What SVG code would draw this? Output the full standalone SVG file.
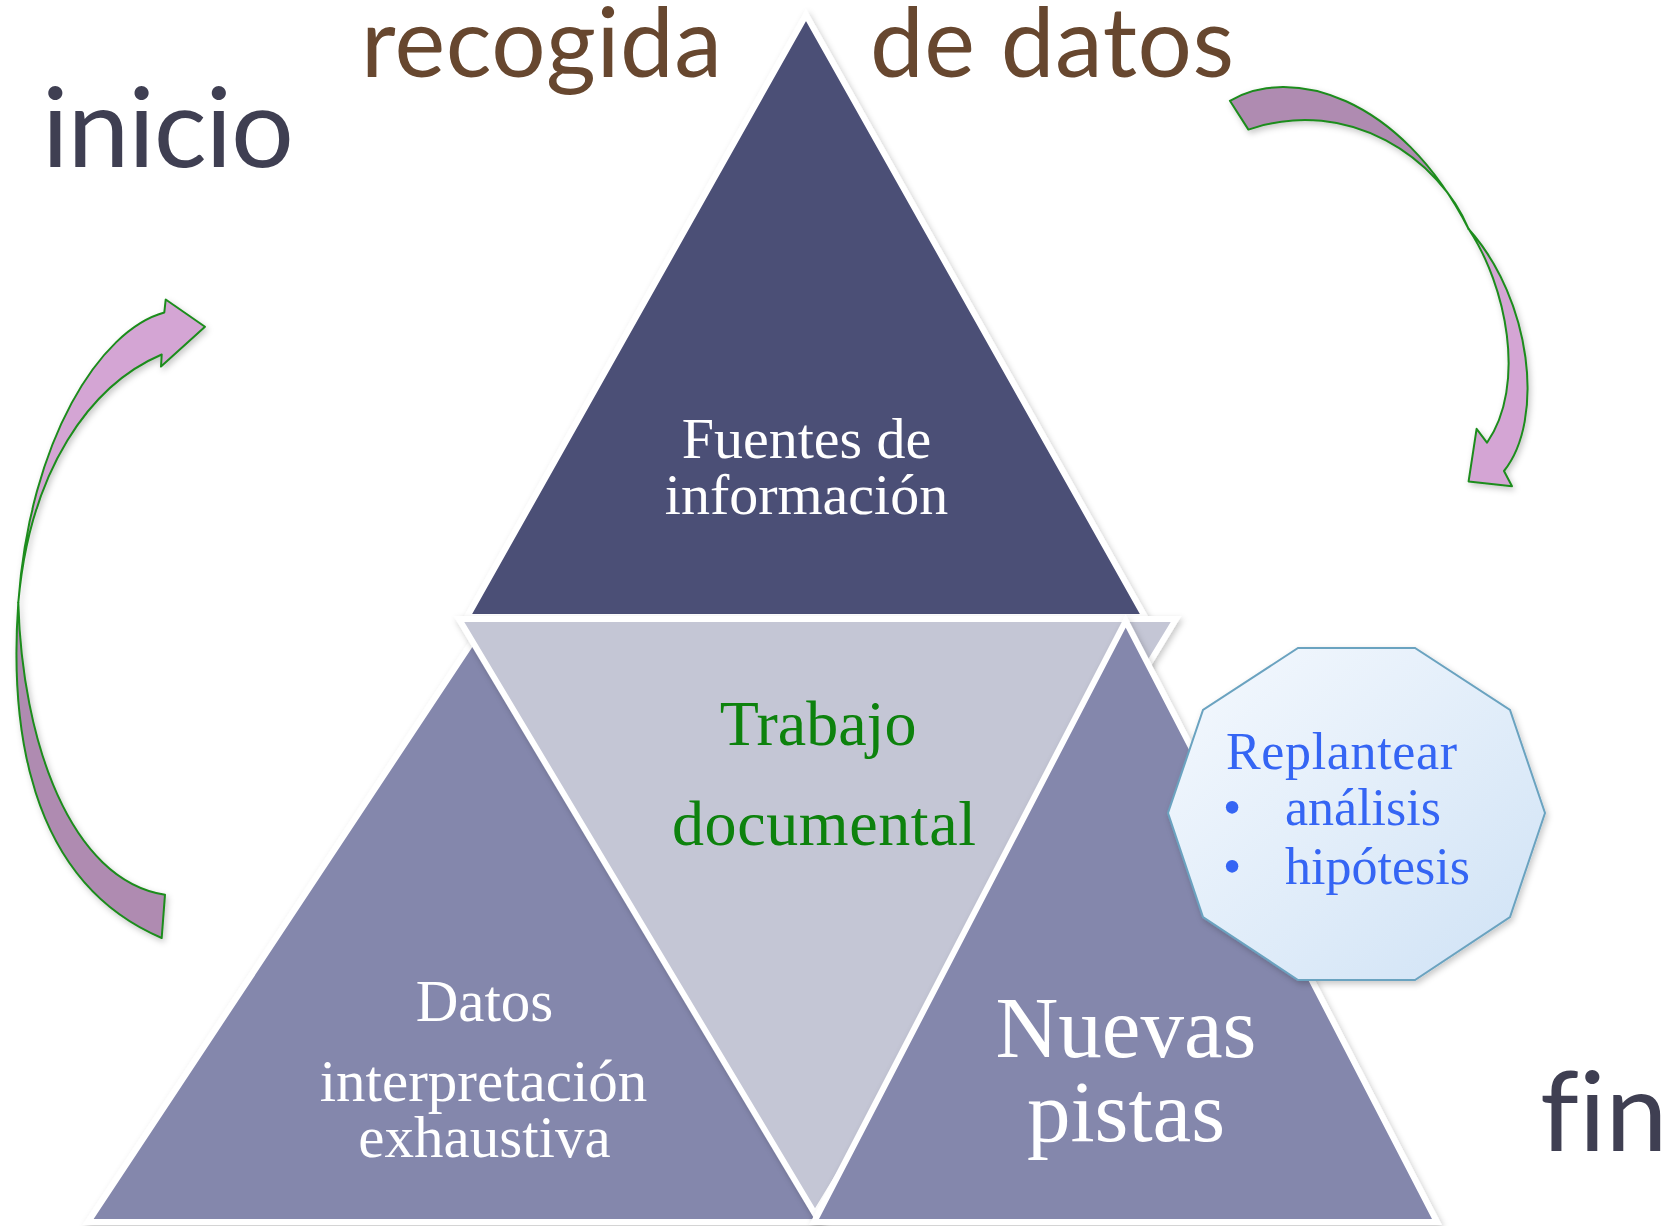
<svg xmlns="http://www.w3.org/2000/svg" width="1664" height="1226" viewBox="0 0 1664 1226">
<style>
.tri{stroke:#FFFFFF;stroke-width:6;stroke-linejoin:miter}
.dark{fill:#4C4F76}
.mid{fill:#8487AC}
.light{fill:#C4C6D5}
.serif{font-family:"Liberation Serif","Times New Roman",serif}
.sans{font-family:Lato,"Open Sans","Noto Sans",sans-serif;font-variant-ligatures:none}
.wt{fill:#FFFFFF}
.grn{fill:#0A820A}
.blu{fill:#3465F4}
.arrowL{fill:#D4A5D4;stroke:#1C8C1C;stroke-width:2;stroke-linejoin:round}
.arrowD{fill:#AF8BB1;stroke:#1C8C1C;stroke-width:2;stroke-linejoin:round}
</style>
<defs>
<filter id="sh" x="-10%" y="-10%" width="120%" height="120%">
<feDropShadow dx="2" dy="3" stdDeviation="3" flood-color="#000000" flood-opacity="0.22"/>
</filter>
<linearGradient id="decg" x1="0" y1="0" x2="1" y2="1">
<stop offset="0" stop-color="#F5F9FE"/>
<stop offset="1" stop-color="#CFE2F5"/>
</linearGradient>
</defs>
<rect width="1664" height="1226" fill="#FFFFFF"/>

<g id="title">
<text class="sans" x="361" y="77" font-size="96" fill="#67472F" textLength="361">recogida</text>
<text class="sans" x="870" y="77" font-size="96" fill="#67472F" textLength="364">de datos</text>
</g>
<g id="label-inicio">
<text class="sans" x="42" y="167" font-size="111" fill="#3F3F52" textLength="252">inicio</text>
</g>
<g id="label-fin">
<text class="sans" x="1540" y="1151" font-size="111" fill="#3F3F52">fin</text>
</g>

<g id="node-fuentes" filter="url(#sh)">
<polygon class="tri dark" points="806,15 1145,617 467,617"/>
<text class="serif wt" x="806.5" y="458" font-size="58" text-anchor="middle">Fuentes de</text>
<text class="serif wt" x="806.5" y="514" font-size="58" text-anchor="middle">información</text>
</g>

<g id="node-datos" filter="url(#sh)">
<polygon class="tri mid" points="480,630 820,1222 88,1222"/>
<text class="serif wt" x="484.5" y="1021" font-size="59" text-anchor="middle">Datos</text>
<text class="serif wt" x="483.5" y="1101" font-size="59" text-anchor="middle">interpretación</text>
<text class="serif wt" x="484.5" y="1157" font-size="59" text-anchor="middle">exhaustiva</text>
</g>

<g id="node-trabajo" filter="url(#sh)">
<polygon class="tri light" points="459,619 1176,619 815,1214"/>
<text class="serif grn" x="818" y="745" font-size="64" text-anchor="middle">Trabajo</text>
<text class="serif grn" x="824" y="845" font-size="64" text-anchor="middle" textLength="304">documental</text>
</g>

<g id="node-nuevas" filter="url(#sh)">
<polygon class="tri mid" points="1125.7,621 1437,1222 814,1222"/>
<text class="serif wt" x="1126" y="1057" font-size="87" text-anchor="middle">Nuevas</text>
<text class="serif wt" x="1126" y="1141" font-size="87" text-anchor="middle">pistas</text>
</g>

<g id="node-replantear" filter="url(#sh)">
<polygon points="1298,648 1415,648 1510,710 1545,813 1510,917 1415,980 1298,980 1203,917 1168,813 1203,710" fill="url(#decg)" stroke="#6BA3C0" stroke-width="2"/>
<text class="serif blu" x="1226" y="769" font-size="52" textLength="231">Replantear</text>
<text class="serif blu" x="1232" y="825" font-size="52" text-anchor="middle">•</text>
<text class="serif blu" x="1285" y="825" font-size="52">análisis</text>
<text class="serif blu" x="1232" y="884" font-size="52" text-anchor="middle">•</text>
<text class="serif blu" x="1285" y="884" font-size="52">hipótesis</text>
</g>

<g id="connectors" filter="url(#sh)">
<g id="arrow-left">
<path class="arrowD" d="M18.3,602.5 C10,720 25,880 161.7,938 L165,894.7 C70,880 22,740 18.3,602.5 Z"/>
<path class="arrowL" d="M164.3,312.5 C100,330 30,440 18.3,602.5 C30,470 90,385 161.7,354.5 L161,366.6 L205,326.8 L165.7,299.5 Z"/>
</g>
<g id="arrow-right">
<path class="arrowD" d="M1229.9,100.8 C1290,65 1400,95 1468.6,229 C1440,160 1350,95 1248.4,129.6 Z"/>
<path class="arrowL" d="M1468.6,229 C1506,285 1527,385 1487,442.7 L1476.6,428.9 L1468.6,481.4 L1512,486.2 L1504,471 C1545,420 1532,300 1468.6,229 Z"/>
</g>
</g>
</svg>
